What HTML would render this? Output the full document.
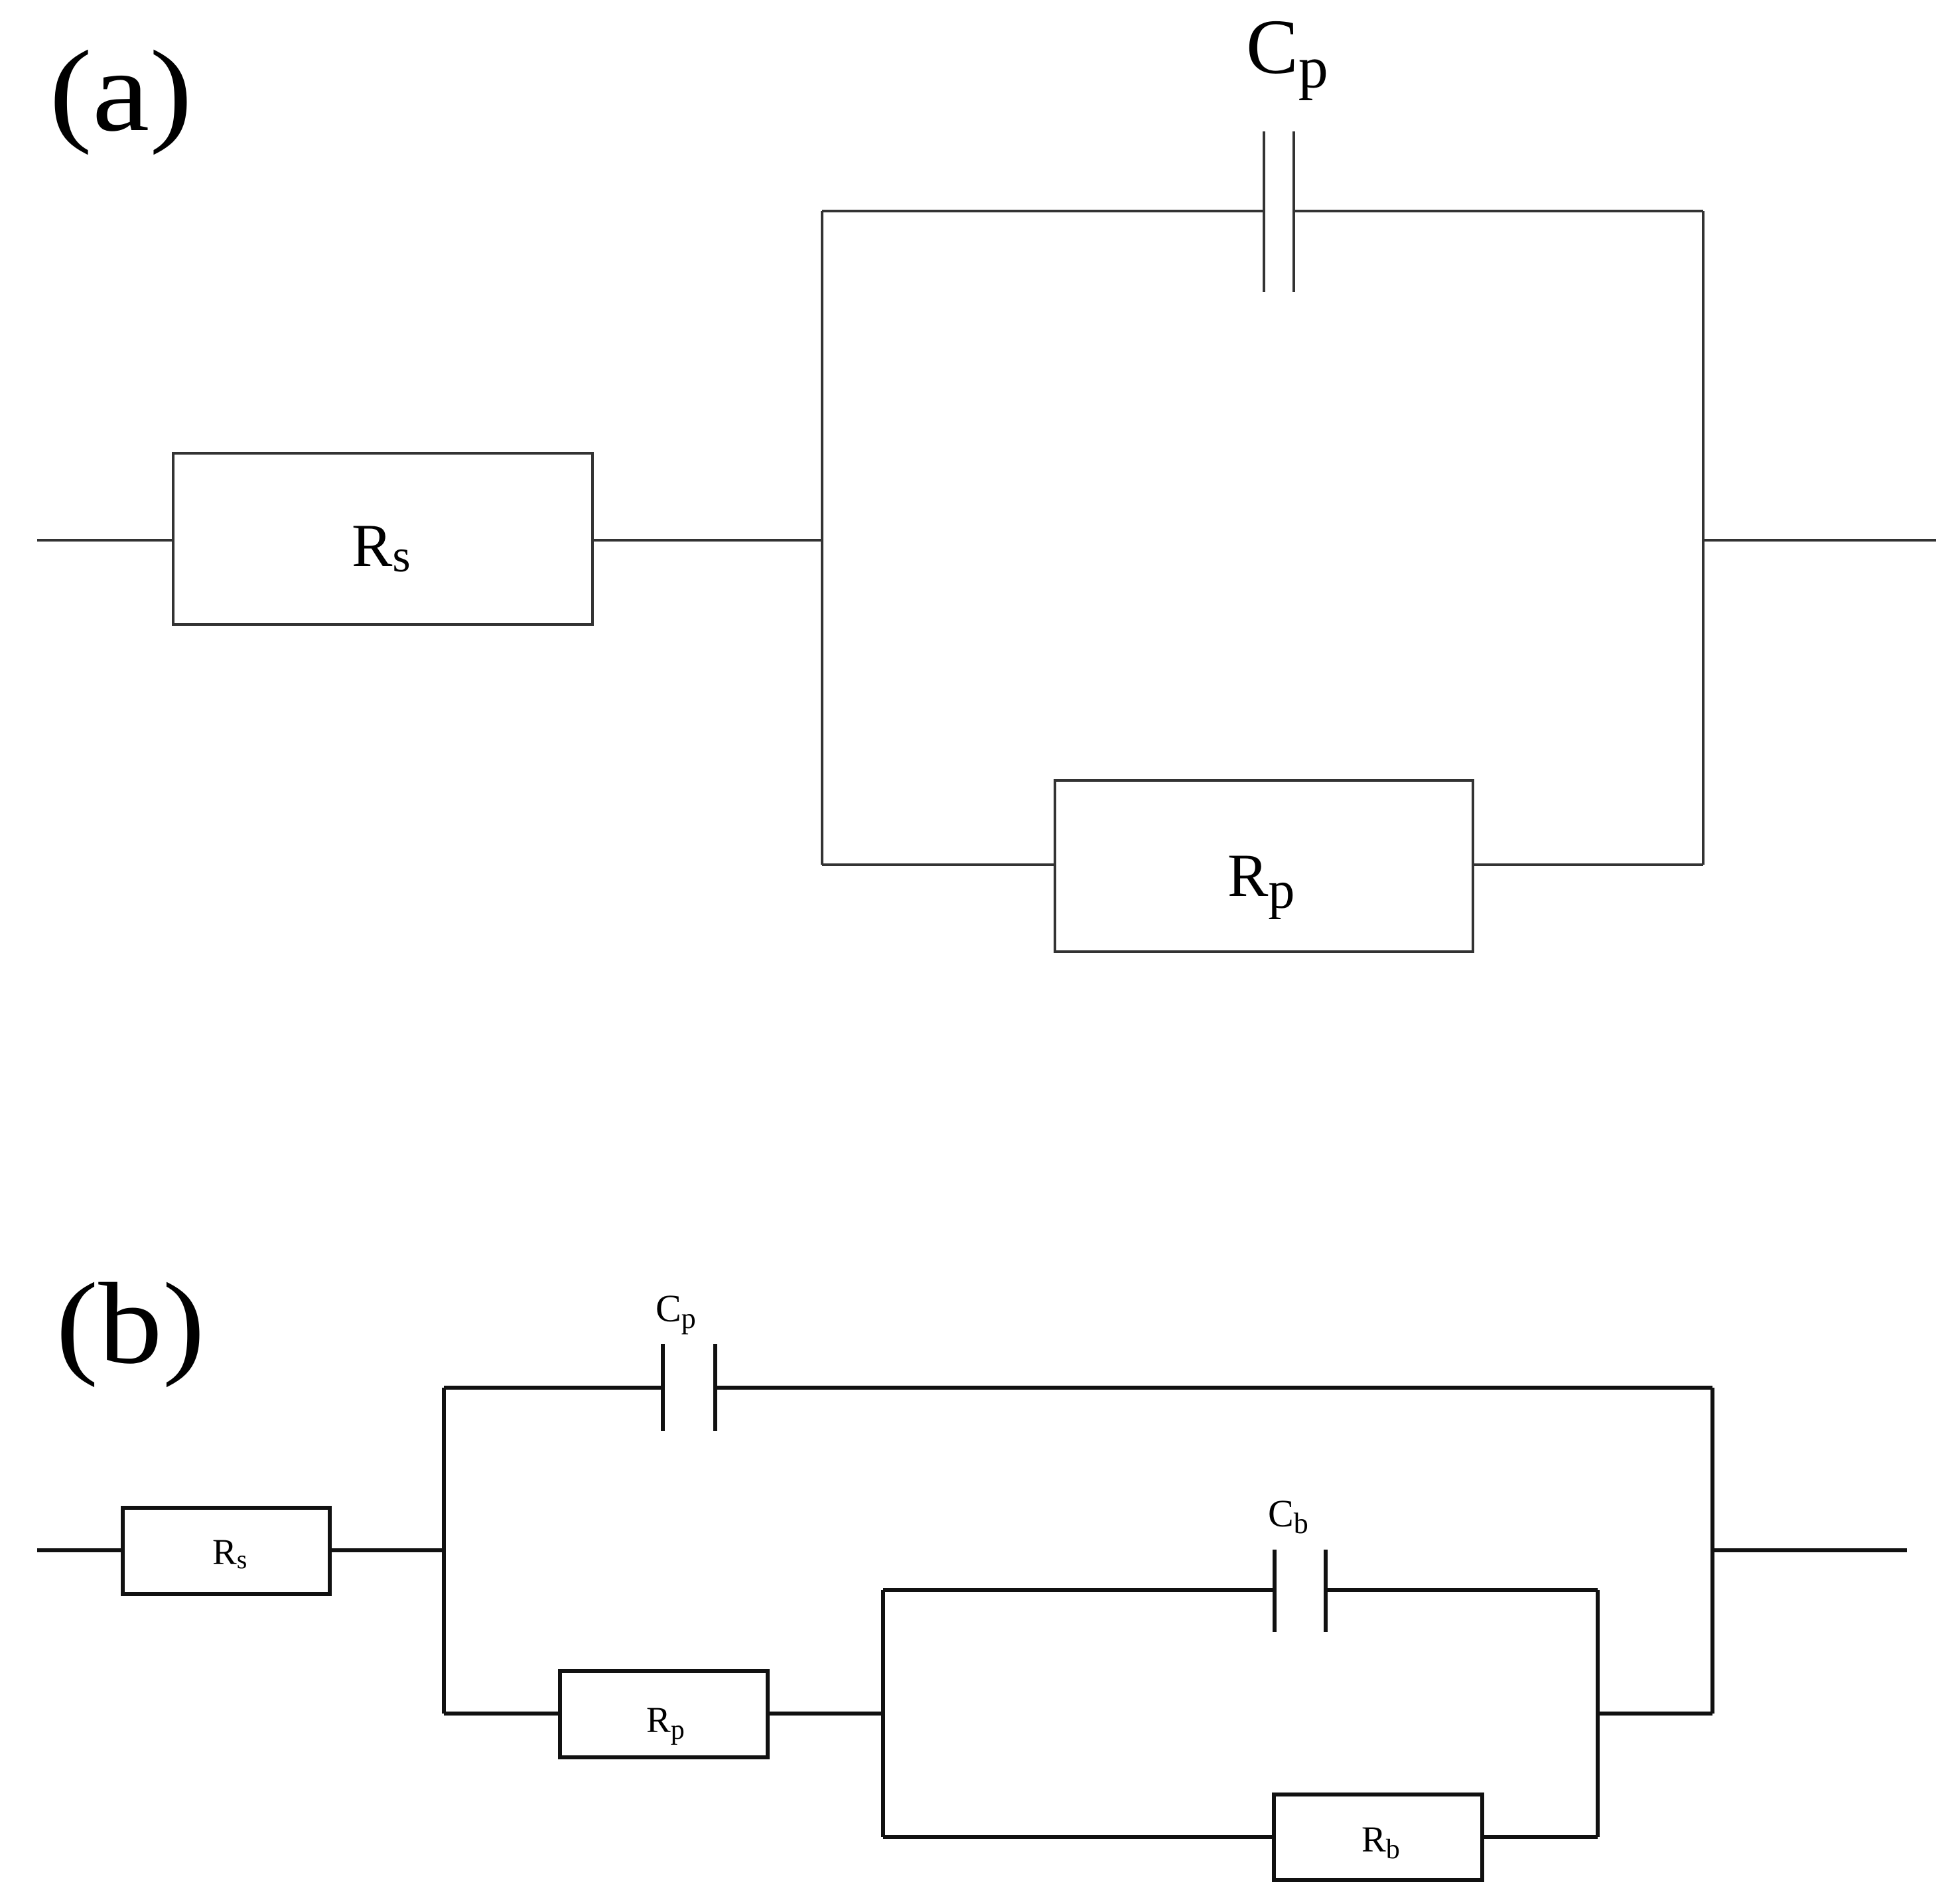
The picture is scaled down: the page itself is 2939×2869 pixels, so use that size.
<!DOCTYPE html>
<html><head><meta charset="utf-8"><style>html,body{margin:0;padding:0;background:#fff}svg{display:block}</style></head>
<body>
<svg width="2939" height="2869" viewBox="0 0 2939 2869" xmlns="http://www.w3.org/2000/svg" font-family="'Liberation Serif', serif">
<rect width="2939" height="2869" fill="#fff"/>
<!-- (a) -->
<text x="74" y="196" font-size="175" textLength="216" lengthAdjust="spacingAndGlyphs">(a)</text>
<g stroke="#333" stroke-width="4" fill="none">
  <line x1="56" y1="814" x2="261" y2="814"/>
  <rect x="261" y="683" width="632" height="258"/>
  <line x1="893" y1="814" x2="1239" y2="814"/>
  <line x1="1239" y1="318" x2="1239" y2="1303"/>
  <line x1="1239" y1="318" x2="1905" y2="318"/>
  <line x1="1905" y1="198" x2="1905" y2="440"/>
  <line x1="1950" y1="198" x2="1950" y2="440"/>
  <line x1="1950" y1="318" x2="2567" y2="318"/>
  <line x1="2567" y1="318" x2="2567" y2="1303"/>
  <line x1="2567" y1="814" x2="2918" y2="814"/>
  <line x1="1239" y1="1303" x2="1590" y2="1303"/>
  <rect x="1590" y="1176" width="630" height="258"/>
  <line x1="2220" y1="1303" x2="2567" y2="1303"/>
</g>
<text x="1878" y="110" font-size="118">C<tspan font-size="90" dy="22">p</tspan></text>
<text x="530" y="853" font-size="92">R<tspan font-size="70" dy="8">s</tspan></text>
<text x="1850" y="1350" font-size="92">R<tspan font-size="80" dy="18">p</tspan></text>
<!-- (b) -->
<text x="84" y="2053" font-size="175" textLength="225" lengthAdjust="spacingAndGlyphs">(b)</text>
<g stroke="#111" stroke-width="6" fill="none">
  <line x1="56" y1="2336" x2="185" y2="2336"/>
  <rect x="185" y="2272" width="312" height="130"/>
  <line x1="497" y1="2336" x2="669" y2="2336"/>
  <line x1="669" y1="2091" x2="669" y2="2582"/>
  <line x1="669" y1="2091" x2="999" y2="2091"/>
  <line x1="999" y1="2025" x2="999" y2="2156"/>
  <line x1="1078" y1="2025" x2="1078" y2="2156"/>
  <line x1="1078" y1="2091" x2="2581" y2="2091"/>
  <line x1="2581" y1="2091" x2="2581" y2="2582"/>
  <line x1="2581" y1="2336" x2="2874" y2="2336"/>
  <line x1="669" y1="2582" x2="844" y2="2582"/>
  <rect x="844" y="2518" width="313" height="130"/>
  <line x1="1157" y1="2582" x2="1331" y2="2582"/>
  <line x1="1331" y1="2396" x2="1331" y2="2768"/>
  <line x1="1331" y1="2396" x2="1921" y2="2396"/>
  <line x1="1921" y1="2335" x2="1921" y2="2459"/>
  <line x1="1998" y1="2335" x2="1998" y2="2459"/>
  <line x1="1998" y1="2396" x2="2408" y2="2396"/>
  <line x1="2408" y1="2396" x2="2408" y2="2768"/>
  <line x1="2408" y1="2582" x2="2581" y2="2582"/>
  <line x1="1331" y1="2768" x2="1920" y2="2768"/>
  <rect x="1920" y="2704" width="314" height="129"/>
  <line x1="2234" y1="2768" x2="2408" y2="2768"/>
</g>
<text x="988" y="1991" font-size="58">C<tspan font-size="44" dy="10">p</tspan></text>
<text x="1911" y="2300" font-size="58">C<tspan font-size="44" dy="10">b</tspan></text>
<text x="320" y="2357" font-size="55">R<tspan font-size="40" dy="6">s</tspan></text>
<text x="974" y="2610" font-size="55">R<tspan font-size="42" dy="10">p</tspan></text>
<text x="2052" y="2790" font-size="55">R<tspan font-size="42" dy="10">b</tspan></text>
</svg>
</body></html>
